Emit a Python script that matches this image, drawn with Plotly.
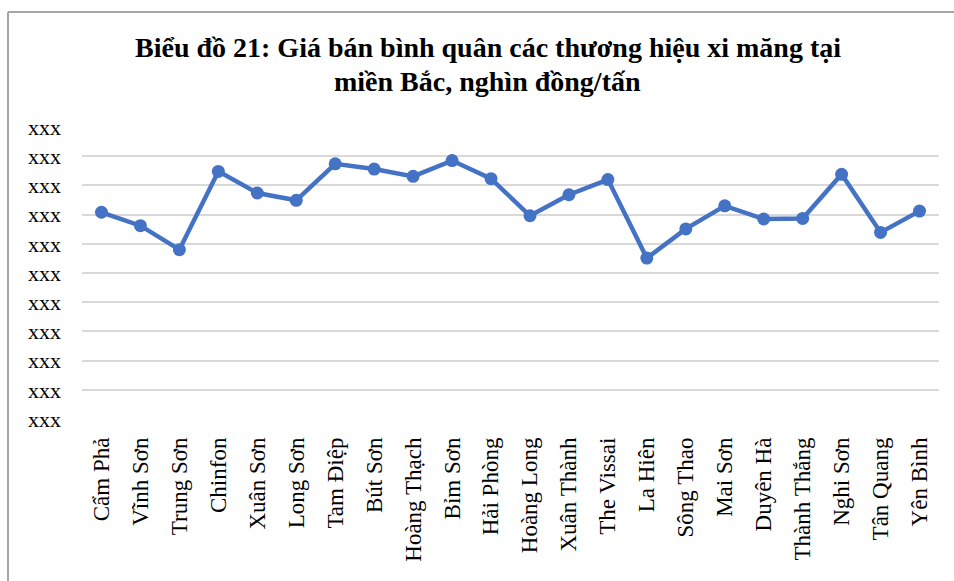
import plotly.graph_objects as go

categories = ["Cẩm Phả", "Vĩnh Sơn", "Trung Sơn", "Chinfon", "Xuân Sơn", "Long Sơn",
              "Tam Điệp", "Bút Sơn", "Hoàng Thạch", "Bỉm Sơn", "Hải Phòng", "Hoàng Long",
              "Xuân Thành", "The Vissai", "La Hiên", "Sông Thao", "Mai Sơn", "Duyên Hà",
              "Thành Thắng", "Nghi Sơn", "Tân Quang", "Yên Bình"]
values = [7.08, 6.62, 5.80, 8.48, 7.74, 7.49, 8.74, 8.56, 8.31, 8.85, 8.23, 6.96,
          7.68, 8.20, 5.51, 6.51, 7.30, 6.85, 6.87, 8.38, 6.39, 7.12]
y_tickvals = [0, 1, 2, 3, 4, 5, 6, 7, 8, 9, 10]
y_ticktext = ["xxx"] * 11
title_lines = ["Biểu đồ 21: Giá bán bình quân các thương hiệu xi măng tại",
               "miền Bắc, nghìn đồng/tấn"]

W, H = 954, 581
ml, mr, mt, mb = 82, 15, 127, 162
pw, ph = W - ml - mr, H - mt - mb

fig = go.Figure()
fig.add_trace(go.Scatter(
    x=categories, y=values, mode="lines+markers",
    line=dict(color="#4472C4", width=4.5),
    marker=dict(color="#4472C4", size=13),
    showlegend=False,
))

def px_x(p):
    return (p - ml) / pw

def px_y(p):
    return (H - mb - p) / ph

frame_col = "#A6A6A6"
fig.add_shape(type="line", xref="paper", yref="paper",
              x0=px_x(8), x1=px_x(W), y0=px_y(12), y1=px_y(12),
              line=dict(color=frame_col, width=2))
fig.add_shape(type="line", xref="paper", yref="paper",
              x0=px_x(8), x1=px_x(8), y0=px_y(12), y1=px_y(H),
              line=dict(color=frame_col, width=2))

for line_text, cy in zip(title_lines, [48, 81]):
    fig.add_annotation(
        text="<b>" + line_text + "</b>", showarrow=False,
        xref="paper", yref="paper",
        x=px_x((133 + 842) / 2), xanchor="center",
        y=px_y(cy), yanchor="middle",
        font=dict(family="Liberation Serif", size=28, color="black"),
    )

fig.update_layout(
    width=W, height=H,
    margin=dict(l=ml, r=mr, t=mt, b=mb),
    paper_bgcolor="white", plot_bgcolor="white",
    xaxis=dict(
        type="category",
        tickangle=-90,
        tickfont=dict(family="Liberation Serif", size=23, color="black"),
        showgrid=False, showline=False, ticks="",
        ticklabelstandoff=13,
        range=[-0.5, len(categories) - 0.5],
    ),
    yaxis=dict(
        range=[0, 10],
        tickvals=y_tickvals, ticktext=y_ticktext,
        tickfont=dict(family="Liberation Serif", size=22, color="black"),
        showgrid=True, gridcolor="#D9D9D9", gridwidth=2,
        zeroline=False, showline=False, ticks="",
        ticklabelstandoff=20,
    ),
)

fig.write_html("out.html", config={"displayModeBar": False},
               post_script="document.body.style.margin='0';document.body.style.overflow='hidden';")
